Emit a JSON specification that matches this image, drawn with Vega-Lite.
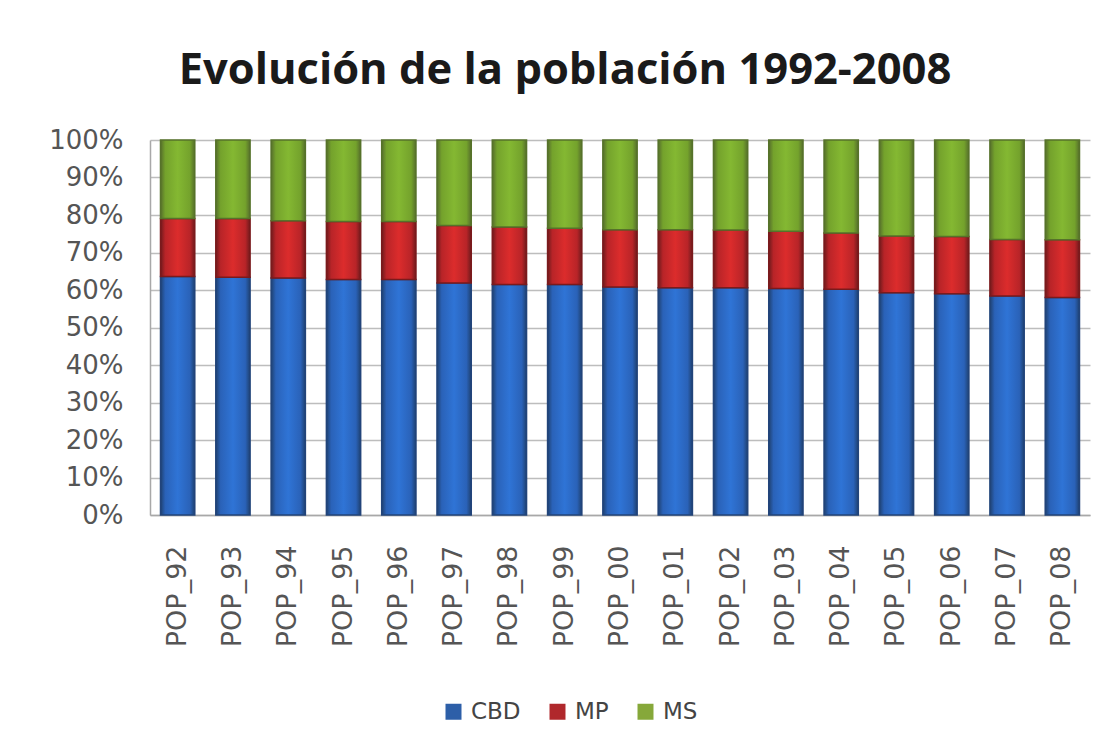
{
  "$schema": "https://vega.github.io/schema/vega-lite/v6.json",
  "width": 940,
  "height": 375,
  "autosize": "none",
  "padding": {"left": 150, "top": 140, "right": 24, "bottom": 239},
  "background": "white",
  "title": {
    "text": "Evolución de la población 1992-2008",
    "font": "Open Sans",
    "fontSize": 43.5,
    "fontWeight": "bold",
    "color": "#1a1a1a",
    "anchor": "middle",
    "frame": "group",
    "dx": -55,
    "offset": 34
  },
  "data": {
    "values": [
      {"pop": "POP_92", "serie": "CBD", "valor": 63.6}, {"pop": "POP_92", "serie": "MP", "valor": 15.5}, {"pop": "POP_92", "serie": "MS", "valor": 20.9},
      {"pop": "POP_93", "serie": "CBD", "valor": 63.4}, {"pop": "POP_93", "serie": "MP", "valor": 15.7}, {"pop": "POP_93", "serie": "MS", "valor": 20.9},
      {"pop": "POP_94", "serie": "CBD", "valor": 63.2}, {"pop": "POP_94", "serie": "MP", "valor": 15.3}, {"pop": "POP_94", "serie": "MS", "valor": 21.5},
      {"pop": "POP_95", "serie": "CBD", "valor": 62.8}, {"pop": "POP_95", "serie": "MP", "valor": 15.5}, {"pop": "POP_95", "serie": "MS", "valor": 21.7},
      {"pop": "POP_96", "serie": "CBD", "valor": 62.8}, {"pop": "POP_96", "serie": "MP", "valor": 15.5}, {"pop": "POP_96", "serie": "MS", "valor": 21.7},
      {"pop": "POP_97", "serie": "CBD", "valor": 61.9}, {"pop": "POP_97", "serie": "MP", "valor": 15.3}, {"pop": "POP_97", "serie": "MS", "valor": 22.8},
      {"pop": "POP_98", "serie": "CBD", "valor": 61.5}, {"pop": "POP_98", "serie": "MP", "valor": 15.3}, {"pop": "POP_98", "serie": "MS", "valor": 23.2},
      {"pop": "POP_99", "serie": "CBD", "valor": 61.5}, {"pop": "POP_99", "serie": "MP", "valor": 15.0}, {"pop": "POP_99", "serie": "MS", "valor": 23.5},
      {"pop": "POP_00", "serie": "CBD", "valor": 60.8}, {"pop": "POP_00", "serie": "MP", "valor": 15.3}, {"pop": "POP_00", "serie": "MS", "valor": 23.9},
      {"pop": "POP_01", "serie": "CBD", "valor": 60.6}, {"pop": "POP_01", "serie": "MP", "valor": 15.5}, {"pop": "POP_01", "serie": "MS", "valor": 23.9},
      {"pop": "POP_02", "serie": "CBD", "valor": 60.6}, {"pop": "POP_02", "serie": "MP", "valor": 15.4}, {"pop": "POP_02", "serie": "MS", "valor": 24.0},
      {"pop": "POP_03", "serie": "CBD", "valor": 60.4}, {"pop": "POP_03", "serie": "MP", "valor": 15.3}, {"pop": "POP_03", "serie": "MS", "valor": 24.3},
      {"pop": "POP_04", "serie": "CBD", "valor": 60.2}, {"pop": "POP_04", "serie": "MP", "valor": 15.0}, {"pop": "POP_04", "serie": "MS", "valor": 24.8},
      {"pop": "POP_05", "serie": "CBD", "valor": 59.3}, {"pop": "POP_05", "serie": "MP", "valor": 15.1}, {"pop": "POP_05", "serie": "MS", "valor": 25.6},
      {"pop": "POP_06", "serie": "CBD", "valor": 59.0}, {"pop": "POP_06", "serie": "MP", "valor": 15.3}, {"pop": "POP_06", "serie": "MS", "valor": 25.7},
      {"pop": "POP_07", "serie": "CBD", "valor": 58.4}, {"pop": "POP_07", "serie": "MP", "valor": 15.1}, {"pop": "POP_07", "serie": "MS", "valor": 26.5},
      {"pop": "POP_08", "serie": "CBD", "valor": 58.0}, {"pop": "POP_08", "serie": "MP", "valor": 15.4}, {"pop": "POP_08", "serie": "MS", "valor": 26.6}
    ]
  },
  "transform": [
    {"stack": "valor", "groupby": ["pop"], "offset": "normalize", "sort": [{"field": "serie", "order": "ascending"}], "as": ["v0", "v1"]}
  ],
  "encoding": {
    "x": {
      "field": "pop",
      "type": "nominal",
      "sort": null,
      "scale": {"paddingInner": 0.38, "paddingOuter": 0.19},
      "axis": {
        "title": null,
        "labelAngle": -90,
        "labelAlign": "right",
        "labelBaseline": "middle",
        "labelPadding": 30,
        "labelFont": "DejaVu Sans",
        "labelFontSize": 27,
        "labelColor": "#555555",
        "ticks": false,
        "domain": true,
        "domainColor": "#a8a8a8",
        "domainWidth": 1.5
      }
    },
    "y": {
      "field": "v1",
      "type": "quantitative",
      "scale": {"domain": [0, 1]},
      "axis": {
        "title": null,
        "format": ".0%",
        "values": [0, 0.1, 0.2, 0.3, 0.4, 0.5, 0.6, 0.7, 0.8, 0.9, 1],
        "labelOverlap": false,
        "labelFont": "DejaVu Sans",
        "labelFontSize": 26,
        "labelColor": "#555555",
        "labelPadding": 27,
        "ticks": false,
        "domain": true,
        "domainColor": "#a8a8a8",
        "domainWidth": 1.5,
        "grid": true,
        "gridColor": "#bdbdbd",
        "gridWidth": 1.5
      }
    },
    "y2": {"field": "v0"}
  },
  "layer": [
    {
      "mark": {"type": "bar"},
      "encoding": {
        "color": {
          "field": "serie",
          "type": "nominal",
          "scale": {"domain": ["CBD", "MP", "MS"], "range": ["#2d5fa8", "#b0282c", "#86a83a"]},
          "legend": {
            "title": null,
            "orient": "none",
            "direction": "horizontal",
            "legendX": 292,
            "legendY": 560,
            "padding": 0,
            "symbolType": "square",
            "symbolSize": 256,
            "symbolStrokeWidth": 0,
            "labelFont": "DejaVu Sans",
            "labelFontSize": 23,
            "labelColor": "#444444",
            "columnPadding": 25,
            "labelOffset": 6
          }
        }
      }
    },
    {
      "transform": [{"filter": "datum.serie === 'CBD'"}],
      "mark": {
        "type": "bar",
        "stroke": "#22447a",
        "strokeWidth": 1.5,
        "color": {
          "gradient": "linear", "x1": 0, "x2": 1, "y1": 0, "y2": 0,
          "stops": [
            {"offset": 0, "color": "#1f4170"},
            {"offset": 0.14, "color": "#2a62b8"},
            {"offset": 0.5, "color": "#2f74d6"},
            {"offset": 0.86, "color": "#2a62b8"},
            {"offset": 1, "color": "#1f4170"}
          ]
        }
      }
    },
    {
      "transform": [{"filter": "datum.serie === 'MP'"}],
      "mark": {
        "type": "bar",
        "stroke": "#7a1a1c",
        "strokeWidth": 1.5,
        "color": {
          "gradient": "linear", "x1": 0, "x2": 1, "y1": 0, "y2": 0,
          "stops": [
            {"offset": 0, "color": "#6e1a1c"},
            {"offset": 0.14, "color": "#b82428"},
            {"offset": 0.5, "color": "#dc2c2c"},
            {"offset": 0.86, "color": "#b82428"},
            {"offset": 1, "color": "#6e1a1c"}
          ]
        }
      }
    },
    {
      "transform": [{"filter": "datum.serie === 'MS'"}],
      "mark": {
        "type": "bar",
        "stroke": "#56722a",
        "strokeWidth": 1.5,
        "color": {
          "gradient": "linear", "x1": 0, "x2": 1, "y1": 0, "y2": 0,
          "stops": [
            {"offset": 0, "color": "#566e2c"},
            {"offset": 0.14, "color": "#74a22c"},
            {"offset": 0.5, "color": "#84b832"},
            {"offset": 0.86, "color": "#74a22c"},
            {"offset": 1, "color": "#566e2c"}
          ]
        }
      }
    }
  ],
  "config": {
    "view": {"stroke": null}
  }
}
